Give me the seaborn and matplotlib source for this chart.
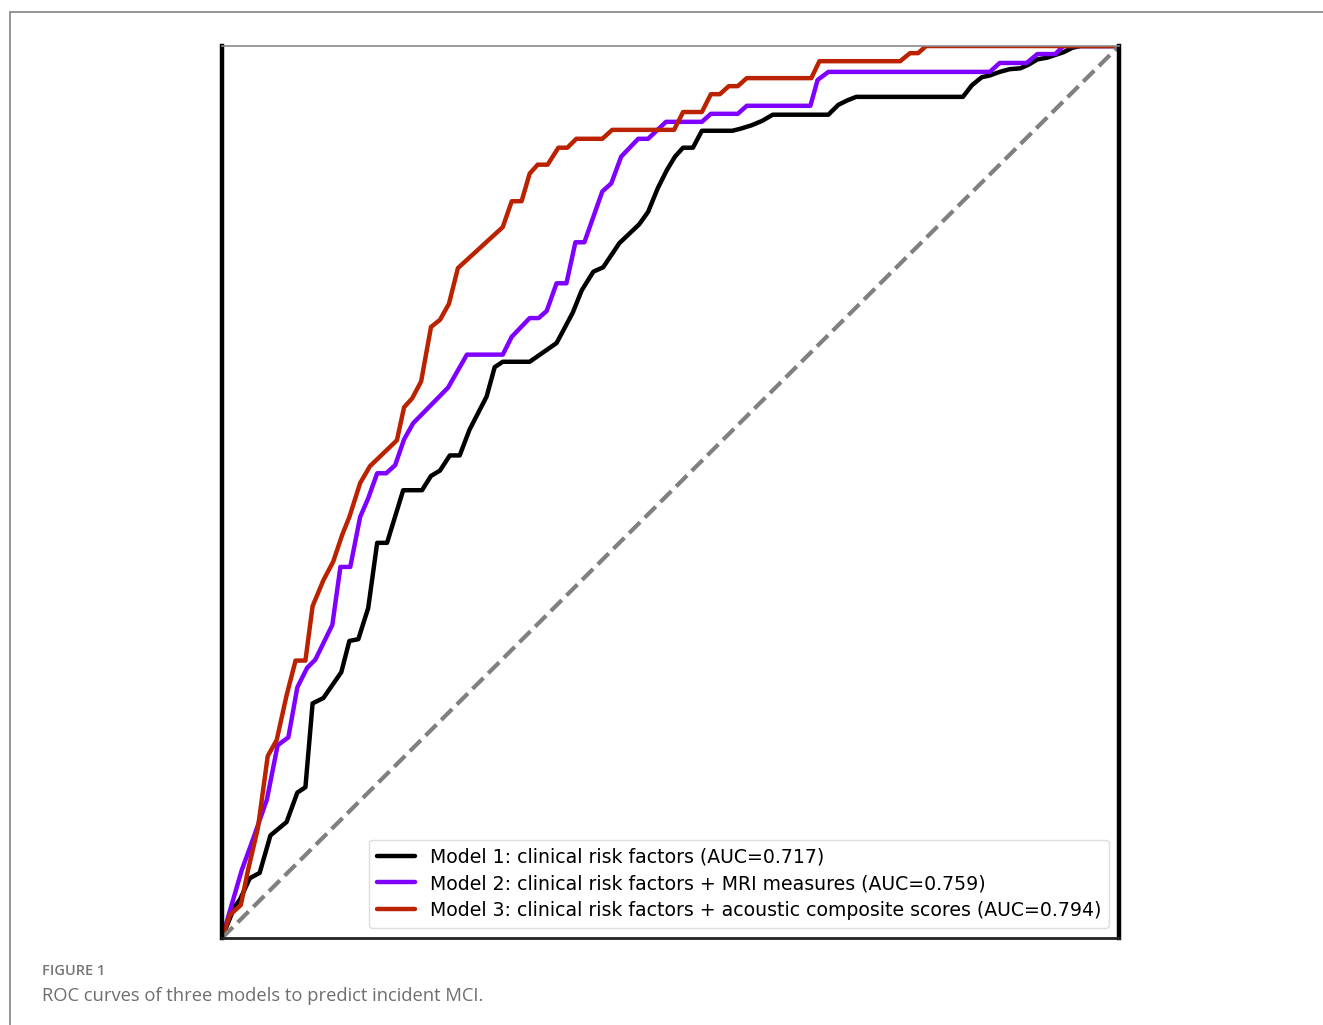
import matplotlib
matplotlib.use("Agg")
import matplotlib.pyplot as plt
import seaborn as sns
import pandas as pd
from matplotlib.patches import Rectangle

# ROC curve points (false positive rate, true positive rate)
fpr_m1 = [0, 0.014, 0.020, 0.031, 0.042, 0.054, 0.072, 0.084, 0.093, 0.101, 0.113, 0.133, 0.142,
          0.152, 0.163, 0.173, 0.184, 0.202, 0.223, 0.233, 0.243, 0.254, 0.265, 0.276, 0.295,
          0.304, 0.313, 0.343, 0.373, 0.391, 0.401, 0.414, 0.425, 0.443, 0.465, 0.475, 0.486,
          0.496, 0.505, 0.514, 0.525, 0.535, 0.569, 0.577, 0.590, 0.602, 0.614, 0.676, 0.687,
          0.697, 0.707, 0.826, 0.836, 0.847, 0.856, 0.867, 0.878, 0.890, 0.899, 0.909, 0.920,
          0.929, 0.938, 0.948, 0.957, 1.0]
tpr_m1 = [0, 0.035, 0.043, 0.067, 0.073, 0.115, 0.130, 0.163, 0.169, 0.263, 0.269, 0.298, 0.333,
          0.335, 0.370, 0.443, 0.443, 0.502, 0.502, 0.518, 0.524, 0.541, 0.541, 0.570, 0.607,
          0.640, 0.646, 0.646, 0.667, 0.701, 0.726, 0.747, 0.752, 0.779, 0.800, 0.814, 0.841,
          0.861, 0.876, 0.886, 0.886, 0.905, 0.905, 0.907, 0.911, 0.916, 0.923, 0.923, 0.934,
          0.939, 0.943, 0.943, 0.956, 0.965, 0.967, 0.971, 0.974, 0.975, 0.979, 0.985, 0.987,
          0.990, 0.993, 0.998, 1.0, 1.0]

fpr_m2 = [0, 0.022, 0.035, 0.050, 0.062, 0.074, 0.084, 0.095, 0.104, 0.123, 0.132, 0.143, 0.154,
          0.163, 0.173, 0.183, 0.193, 0.203, 0.213, 0.252, 0.273, 0.313, 0.323, 0.343, 0.353,
          0.362, 0.373, 0.384, 0.394, 0.404, 0.424, 0.434, 0.445, 0.464, 0.475, 0.495, 0.535,
          0.545, 0.575, 0.585, 0.656, 0.664, 0.676, 0.856, 0.867, 0.897, 0.909, 0.929, 0.938, 1.0]
tpr_m2 = [0, 0.076, 0.112, 0.155, 0.216, 0.225, 0.281, 0.303, 0.312, 0.351, 0.416, 0.416, 0.472,
          0.493, 0.521, 0.521, 0.530, 0.559, 0.577, 0.617, 0.654, 0.654, 0.674, 0.695, 0.695,
          0.703, 0.734, 0.734, 0.780, 0.780, 0.837, 0.846, 0.876, 0.896, 0.896, 0.915, 0.915,
          0.924, 0.924, 0.933, 0.933, 0.962, 0.971, 0.971, 0.981, 0.981, 0.991, 0.991, 1.0, 1.0]

fpr_m3 = [0, 0.009, 0.021, 0.029, 0.040, 0.051, 0.061, 0.072, 0.082, 0.093, 0.101, 0.113, 0.124,
          0.134, 0.142, 0.154, 0.165, 0.195, 0.203, 0.212, 0.222, 0.233, 0.243, 0.253, 0.263,
          0.313, 0.323, 0.334, 0.343, 0.352, 0.363, 0.375, 0.385, 0.395, 0.424, 0.435, 0.504,
          0.514, 0.535, 0.545, 0.555, 0.565, 0.575, 0.585, 0.657, 0.666, 0.756, 0.767, 0.776,
          0.785, 1.0]
tpr_m3 = [0, 0.026, 0.037, 0.076, 0.123, 0.204, 0.222, 0.272, 0.311, 0.311, 0.372, 0.401, 0.422,
          0.452, 0.472, 0.510, 0.529, 0.558, 0.595, 0.605, 0.624, 0.685, 0.693, 0.711, 0.751,
          0.797, 0.826, 0.826, 0.857, 0.867, 0.867, 0.886, 0.886, 0.896, 0.896, 0.906, 0.906,
          0.926, 0.926, 0.946, 0.946, 0.955, 0.955, 0.964, 0.964, 0.983, 0.983, 0.992, 0.992,
          1.0, 1.0]

labels = ["Model 1: clinical risk factors (AUC=0.717)",
          "Model 2: clinical risk factors + MRI measures (AUC=0.759)",
          "Model 3: clinical risk factors + acoustic composite scores (AUC=0.794)"]
colors = ["#000000", "#8000ff", "#bb2200"]

sns.set_style("white")

fig = plt.figure(figsize=(13.23, 10.25), dpi=100)
ax = fig.add_axes([0.1678, 0.0849, 0.678, 0.8702])

curves = [(fpr_m1, tpr_m1), (fpr_m2, tpr_m2), (fpr_m3, tpr_m3)]
for (fx, ty), lab, col in zip(curves, labels, colors):
    df = pd.DataFrame({"fpr": fx, "tpr": ty})
    sns.lineplot(data=df, x="fpr", y="tpr", ax=ax, color=col, lw=3.2, label=lab,
                 estimator=None, sort=False)

# chance line
ax.plot([0, 1], [0, 1], ls="--", color="#808080", lw=3)

ax.set_xlim(0, 1)
ax.set_ylim(0, 1)
ax.set_xticks([])
ax.set_yticks([])
ax.set_xlabel("")
ax.set_ylabel("")
ax.spines["left"].set_linewidth(3.2)
ax.spines["right"].set_linewidth(3.2)
ax.spines["left"].set_color("black")
ax.spines["right"].set_color("black")
ax.spines["bottom"].set_linewidth(2)
ax.spines["bottom"].set_color("#222222")
ax.spines["top"].set_linewidth(1.2)
ax.spines["top"].set_color("#8a8a8a")

leg = ax.legend(loc="lower right", fontsize=13.6, frameon=True, fancybox=True,
                edgecolor="#dddddd", framealpha=1, borderaxespad=0.55,
                labelspacing=0.42)
for t in leg.get_texts():
    t.set_color("black")

# page frame and caption
fig.patches.append(Rectangle((10 / 1323, -0.1), 1.2, 1.1 - 12 / 1025,
                             transform=fig.transFigure, fill=False,
                             edgecolor="#8c8c8c", lw=1.3))
fig.text(42 / 1323, 1 - 971 / 1025, "FIGURE 1", fontsize=10.5, color="#777777",
         fontfamily="Open Sans", fontweight="semibold", va="center", ha="left")
fig.text(42 / 1323, 1 - 996 / 1025, "ROC curves of three models to predict incident MCI.",
         fontsize=13.2, color="#6e6e6e", fontfamily="Open Sans", va="center", ha="left")

fig.savefig("out.png", dpi=100)
